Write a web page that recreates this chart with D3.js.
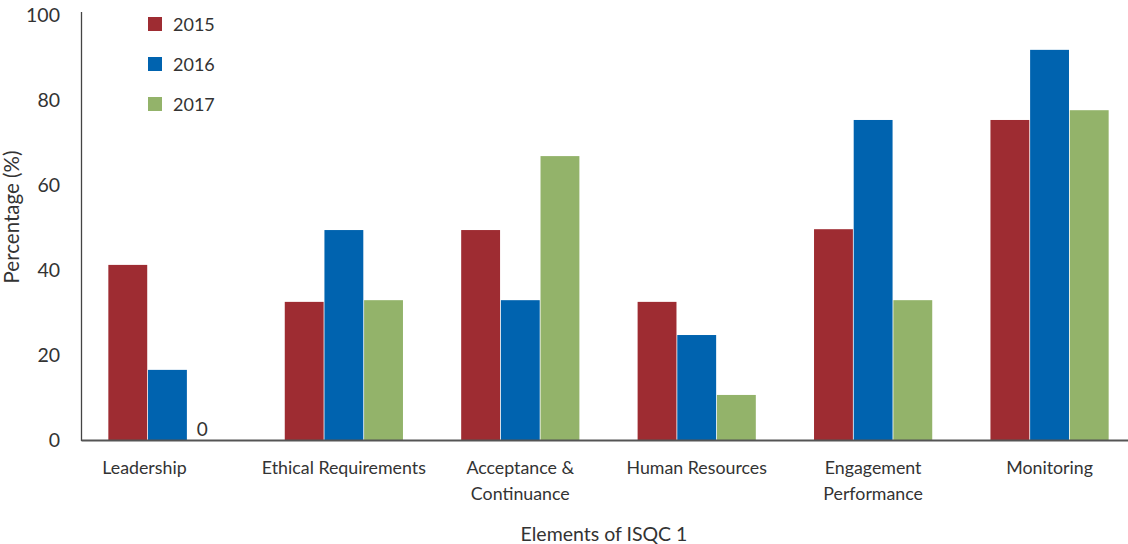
<!DOCTYPE html>
<html>
<head>
<meta charset="utf-8">
<script src="https://cdn.jsdelivr.net/npm/d3@7"></script>
<style>
  html, body { margin: 0; padding: 0; background: #fff; }
  svg { display: block; }
  text { font-family: "Lato", sans-serif; fill: #333; }
</style>
</head>
<body>
<svg id="chart" width="1128" height="544"></svg>
<script>
// Elements of ISQC 1, share of firms (%) by year
const categories = ["Leadership", "Ethical Requirements", "Acceptance &\nContinuance", "Human Resources", "Engagement\nPerformance", "Monitoring"];
const years = ["2015", "2016", "2017"];
const values2015 = [41.2, 32.5, 49.4, 32.5, 49.6, 75.3];
const values2016 = [16.5, 49.4, 32.9, 24.7, 75.3, 91.8];
const values2017 = [0, 32.9, 66.8, 10.6, 32.9, 77.6];
const yTicks = [0, 20, 40, 60, 80, 100];
const colors = ["#9e2c32", "#0063af", "#93b36a"];

const series = [values2015, values2016, values2017];
const rows = categories.map((c, i) => ({
  category: c,
  values: years.map((y, k) => ({ year: y, value: series[k][i] }))
}));

const svg = d3.select("#chart");
const left = 81, baseY = 440, topY = 15;

const x = d3.scaleBand()
  .domain(categories)
  .range([left, left + 1055])
  .paddingInner(0.33)
  .paddingOuter(0.155);

const xInner = d3.scaleBand()
  .domain(years)
  .range([0, x.bandwidth()])
  .paddingInner(0.02);

const y = d3.scaleLinear().domain([0, 100]).range([baseY, topY]);
const color = d3.scaleOrdinal().domain(years).range(colors);

// bars
const groups = svg.append("g")
  .selectAll("g")
  .data(rows)
  .join("g")
  .attr("transform", d => `translate(${x(d.category)},0)`);

groups.selectAll("rect")
  .data(d => d.values)
  .join("rect")
  .attr("x", d => xInner(d.year))
  .attr("width", xInner.bandwidth())
  .attr("y", d => y(d.value))
  .attr("height", d => y(0) - y(d.value))
  .attr("fill", d => color(d.year));

// zero-value label
groups.selectAll("text.zero")
  .data(d => d.values.filter(v => v.value === 0))
  .join("text")
  .attr("class", "zero")
  .attr("x", d => xInner(d.year) + 9)
  .attr("y", baseY - 4)
  .attr("font-size", 19)
  .text(d => d.value);

// y axis
const yAxis = svg.append("g")
  .attr("transform", `translate(${left},0)`)
  .call(d3.axisLeft(y).tickValues(yTicks).tickSize(0).tickPadding(21));
yAxis.select(".domain").attr("stroke", "#444").attr("stroke-width", 1.3)
  .attr("d", `M0.5,${topY - 3}V${baseY + 1}`);
yAxis.selectAll(".tick text").attr("font-size", 19.5).attr("font-family", null).attr("fill", "#333");

// x axis
const xAxis = svg.append("g")
  .attr("transform", `translate(0,${baseY})`)
  .call(d3.axisBottom(x).tickSize(0).tickPadding(0));
xAxis.select(".domain").attr("stroke", "#555").attr("stroke-width", 2);
xAxis.selectAll(".tick text").each(function (d, i) {
  const t = d3.select(this);
  const lines = d.split("\n");
  t.text(null)
    .attr("font-size", 17.8)
    .attr("font-family", null)
    .attr("fill", "#333")
    .attr("y", 0)
    .attr("dy", null)
    .attr("dx", i === 0 ? -23 : 0);
  lines.forEach((ln, j) => {
    t.append("tspan").attr("x", 0).attr("y", 34 + j * 26).text(ln);
  });
});

// axis titles
svg.append("text")
  .attr("x", 604).attr("y", 541)
  .attr("text-anchor", "middle")
  .attr("font-size", 19.5)
  .text("Elements of ISQC 1");

svg.append("text")
  .attr("transform", "translate(19,217) rotate(-90)")
  .attr("text-anchor", "middle")
  .attr("font-size", 20.5)
  .text("Percentage (%)");

// legend
const legend = svg.append("g")
  .selectAll("g")
  .data(years)
  .join("g")
  .attr("transform", (d, i) => `translate(148,${17 + i * 40})`);
legend.append("rect").attr("width", 14).attr("height", 14).attr("fill", d => color(d));
legend.append("text").attr("x", 25).attr("y", 14).attr("font-size", 18).text(d => d);
</script>
</body>
</html>
